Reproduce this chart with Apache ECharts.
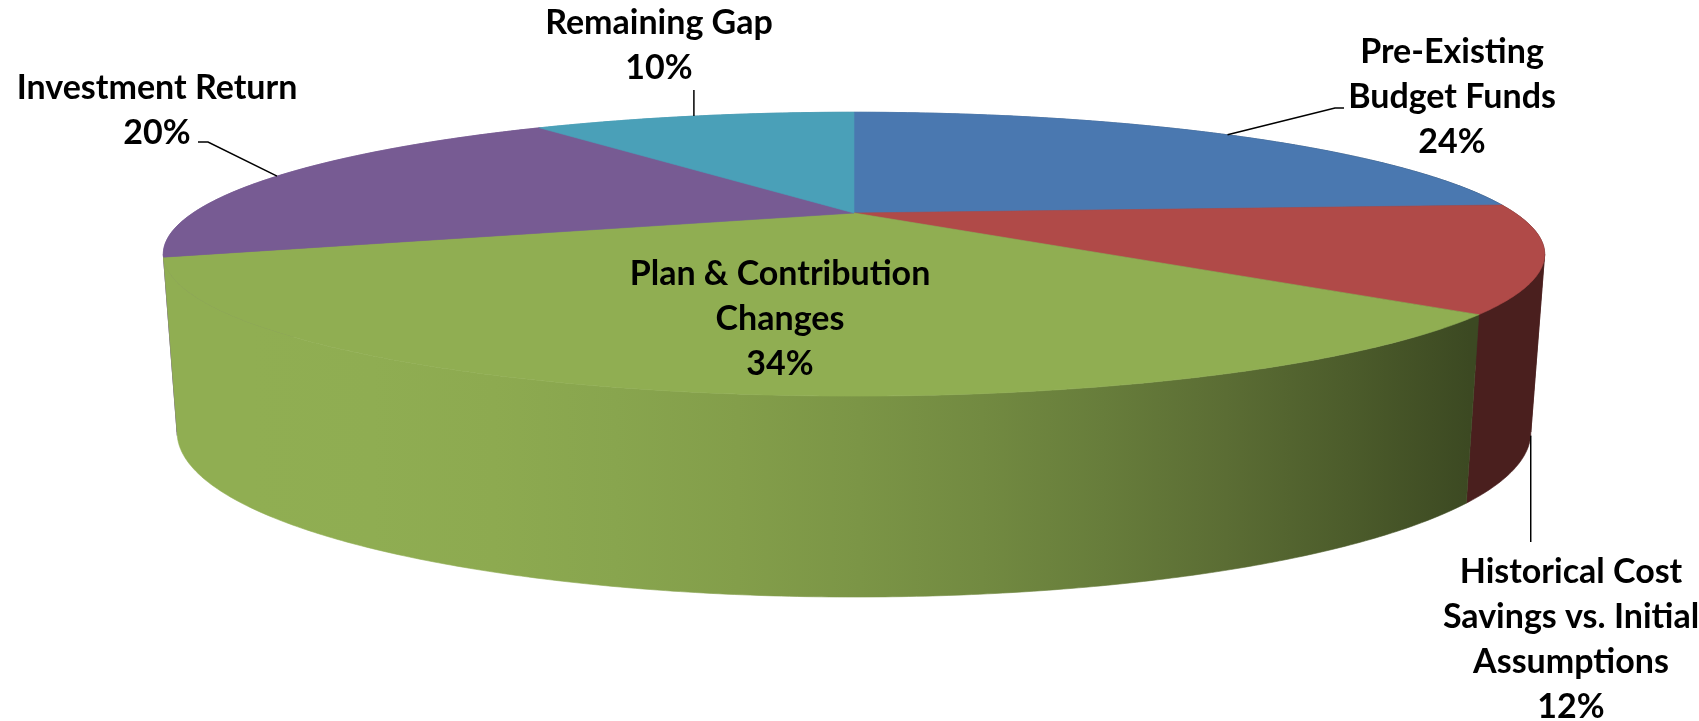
<!DOCTYPE html>
<html>
<head>
<meta charset="utf-8">
<script src="https://cdn.jsdelivr.net/npm/echarts@6/dist/echarts.min.js"></script>
<style>
html,body{margin:0;padding:0;background:#fff;}
#chart{width:1699px;height:721px;}
</style>
</head>
<body>
<div id="chart"></div>
<script>
// ---- data ----
const categories = ['Pre-Existing\nBudget Funds', 'Historical Cost\nSavings vs. Initial\nAssumptions', 'Plan & Contribution\nChanges', 'Investment Return', 'Remaining Gap'];
const values = [24, 12, 34, 20, 10];

// ---- styles ----
const colors = ['#4A78B0', '#B04A48', '#90AE52', '#775B93', '#4AA0B8'];
// label layout (reference pixel space 1699x721)
const labelLayout = [
  {x: 1452, y: 97.5, leader: [{x: 1335, y: 108}, {x: 1344, y: 108}]},
  {x: 1571, y: 640, leader: [{y: 542}]},
  {x: 780, y: 319, leader: null},
  {x: 157, y: 110.5, leader: [{x: 208, y: 142}, {x: 198, y: 142}]},
  {x: 659, y: 45.5, leader: [{y: 90}]}
];

const total = values.reduce((a, b) => a + b, 0);
const seriesData = [];
let acc = 0;
values.forEach((v) => {
  seriesData.push([v, acc, acc + v]);
  acc += v;
});

function shade(hex, f) {
  const n = parseInt(hex.slice(1), 16);
  const r = Math.round(((n >> 16) & 255) * f);
  const g = Math.round(((n >> 8) & 255) * f);
  const b = Math.round((n & 255) * f);
  return 'rgb(' + r + ',' + g + ',' + b + ')';
}

function renderItem(params, api) {
  const W = api.getWidth(), H = api.getHeight();
  const sx = W / 1699, sy = H / 721;
  const cx = 854 * sx, cy = 213 * sy, Kx = 661 * sx, Ky = 130 * sy, e = 0.29;
  const Hz = 170 * sy, eb = 0.154, shrink = 0.98;
  const idx = params.dataIndex;
  const v = api.value(0);
  const a0 = api.value(1) / total * Math.PI * 2;
  const a1 = api.value(2) / total * Math.PI * 2;
  const top = (t) => {
    const w = 1 + e * Math.cos(t);
    return [cx + Kx * Math.sin(t) / w, cy - Ky * Math.cos(t) / w];
  };
  const bot = (t) => {
    const p = top(t);
    return [cx + (p[0] - cx) * shrink, p[1] + Hz / (1 + eb * Math.cos(t))];
  };
  const arc = (b0, b1, f) => {
    const n = Math.max(2, Math.ceil((b1 - b0) / (Math.PI / 360)) + 1);
    const out = [];
    for (let i = 0; i < n; i++) out.push(f(b0 + (b1 - b0) * i / (n - 1)));
    return out;
  };
  const color = colors[idx % colors.length];
  const stops = [];
  for (let k = 0; k <= 10; k++) {
    const t = k / 10;
    stops.push({offset: t, color: shade(color, 1 - 0.58 * t * t)});
  }
  const grad = {type: 'linear', x: 250 * sx, y: 0, x2: 1470 * sx, y2: 0, global: true, colorStops: stops};
  const mid = (a0 + a1) / 2;
  const children = [];
  // outer wall split at the silhouette folds, pieces ordered by depth
  const fold1 = Math.acos(-e), fold2 = Math.PI * 2 - Math.acos(-e);
  const cuts = [a0];
  [fold1, fold2].forEach((f) => { if (f > a0 && f < a1) cuts.push(f); });
  cuts.push(a1);
  for (let i = 0; i < cuts.length - 1; i++) {
    const b0 = cuts[i], b1 = cuts[i + 1];
    const tm = (b0 + b1) / 2;
    const front = Math.cos(tm) < -e;
    const pts = arc(b0, b1, top).concat(arc(b0, b1, bot).reverse());
    children.push({
      type: 'polygon',
      z2: (front ? 500 : 100) + Math.round(-Math.cos(tm) * 100),
      shape: {points: pts},
      style: {fill: grad, stroke: grad, lineWidth: 0.6}
    });
  }
  // top face
  children.push({
    type: 'polygon',
    z2: 1000,
    shape: {points: [[cx, cy]].concat(arc(a0, a1, top))},
    style: {fill: color, stroke: color, lineWidth: 0.6}
  });
  const lay = labelLayout[idx];
  if (lay.leader) {
    const anchor = Math.cos(mid) < 0 ? bot(mid) : top(mid);
    const pts = [anchor];
    lay.leader.forEach((p) => {
      pts.push([p.x == null ? anchor[0] : p.x * sx, p.y * sy]);
    });
    children.push({
      type: 'polyline',
      z2: 1100,
      shape: {points: pts},
      style: {stroke: '#000', lineWidth: 1.5, fill: null}
    });
  }
  const pct = Math.round(v / total * 100) + '%';
  children.push({
    type: 'text',
    z2: 1200,
    style: {
      text: categories[idx] + '\n' + pct,
      x: lay.x * sx,
      y: lay.y * sy,
      align: 'center',
      verticalAlign: 'middle',
      fontFamily: 'Lato',
      fontWeight: 'bold',
      fontSize: 34,
      lineHeight: 45,
      fill: '#000'
    }
  });
  return {type: 'group', children: children};
}

const chart = echarts.init(document.getElementById('chart'));
chart.setOption({
  backgroundColor: '#ffffff',
  animation: false,
  series: [{
    type: 'custom',
    coordinateSystem: 'none',
    renderItem: renderItem,
    data: seriesData
  }]
});
</script>
</body>
</html>
